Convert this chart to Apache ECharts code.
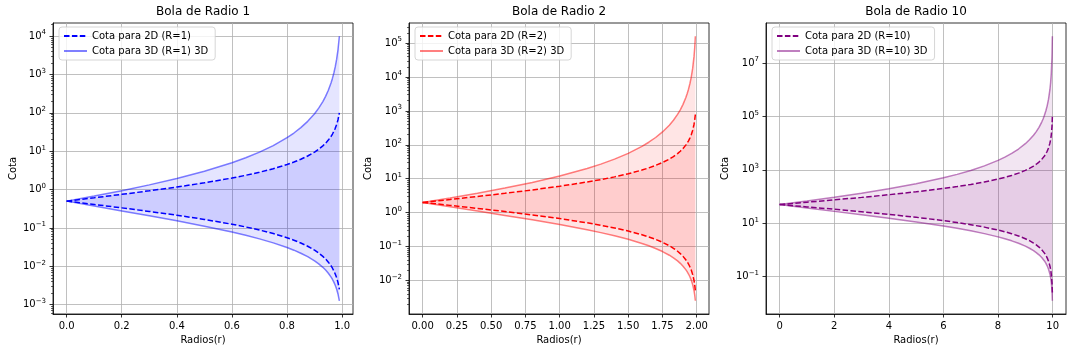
<!DOCTYPE html>
<html>
<head>
<meta charset="utf-8">
<title>Bola de Radio</title>
<script src="https://cdn.jsdelivr.net/npm/echarts@6/dist/echarts.min.js"></script>
<style>
	* { margin: 0; padding: 0 }
	html, body { width: 100%; height: 100%; background: #fff; }
	#main { width: 1072px; height: 352px; }
</style>
</head>
<body>
<div id="main"></div>
<script type="text/javascript">
// --- datos ---
// R = 1
var r1 = [0, 0.1, 0.2, 0.3, 0.4, 0.5, 0.6, 0.65, 0.7, 0.75, 0.8, 0.825, 0.85, 0.875, 0.9, 0.915, 0.93, 0.94, 0.95, 0.96, 0.965, 0.97, 0.975, 0.98, 0.985, 0.99];
var sup2d_1 = [0.5, 0.6111, 0.75, 0.9286, 1.1667, 1.5, 2, 2.3571, 2.8333, 3.5, 4.5, 5.2143, 6.1667, 7.5, 9.5, 11.265, 13.786, 16.167, 19.5, 24.5, 28.071, 32.833, 39.5, 49.5, 66.167, 99.5];
var inf2d_1 = [0.5, 0.4091, 0.3333, 0.2692, 0.2143, 0.1667, 0.125, 0.1061, 0.0882, 0.0714, 0.0556, 0.0479, 0.0405, 0.0333, 0.0263, 0.0222, 0.0181, 0.0155, 0.0128, 0.0102, 0.0089, 0.0076, 0.0063, 0.00505, 0.00378, 0.00251];
var sup3d_1 = [0.5, 0.679, 0.9375, 1.3265, 1.9444, 3, 5, 6.7347, 9.444, 14, 22.5, 29.796, 41.11, 60, 95, 132.53, 196.94, 269.44, 390, 612.5, 802.04, 1094.4, 1580, 2475, 4411.1, 9950];
var inf3d_1 = [0.5, 0.3719, 0.2778, 0.2071, 0.1531, 0.1111, 0.0781, 0.0643, 0.0519, 0.0408, 0.0309, 0.0263, 0.0219, 0.0178, 0.01385, 0.01159, 0.0094, 0.00797, 0.00657, 0.00521, 0.00453, 0.00387, 0.0032, 0.00255, 0.0019, 0.00126];
// R = 2
var r2 = [0, 0.2, 0.4, 0.6, 0.8, 1.0, 1.2, 1.3, 1.4, 1.5, 1.6, 1.65, 1.7, 1.75, 1.8, 1.83, 1.86, 1.88, 1.9, 1.92, 1.93, 1.94, 1.95, 1.96, 1.97, 1.98, 1.985, 1.99];
var sup2d_2 = [2, 2.4444, 3, 3.7143, 4.6667, 6, 8, 9.4286, 11.333, 14, 18, 20.857, 24.667, 30, 38, 45.059, 55.143, 64.667, 78, 98, 112.29, 131.33, 158, 198, 264.67, 398, 531.33, 798];
var inf2d_2 = [2, 1.6364, 1.3333, 1.0769, 0.8571, 0.6667, 0.5, 0.4242, 0.3529, 0.2857, 0.2222, 0.1918, 0.1622, 0.1333, 0.1053, 0.0888, 0.0725, 0.0619, 0.0513, 0.0408, 0.0356, 0.0305, 0.0253, 0.0202, 0.0151, 0.01005, 0.00753, 0.00501];
var sup3d_2 = [2, 2.716, 3.75, 5.3061, 7.7778, 12, 20, 26.939, 37.778, 56, 90, 119.18, 164.44, 240, 380, 530.1, 787.76, 1077.8, 1560, 2450, 3208.2, 4377.8, 6320, 9900, 17644, 39800, 70844, 159600];
var inf3d_2 = [2, 1.4876, 1.1111, 0.8284, 0.6122, 0.4444, 0.3125, 0.2571, 0.2076, 0.1633, 0.1235, 0.1051, 0.0877, 0.0711, 0.0554, 0.0464, 0.0376, 0.0319, 0.0263, 0.0208, 0.0181, 0.01546, 0.01282, 0.0102, 0.00761, 0.00505, 0.00378, 0.00251];
// R = 10
var r10 = [0, 1, 2, 3, 4, 5, 6, 6.5, 7, 7.5, 8, 8.25, 8.5, 8.75, 9, 9.15, 9.3, 9.4, 9.5, 9.6, 9.65, 9.7, 9.75, 9.8, 9.85, 9.9, 9.925, 9.95, 9.975, 9.98, 9.99];
var sup2d_10 = [50, 61.111, 75, 92.857, 116.67, 150, 200, 235.71, 283.33, 350, 450, 521.43, 616.67, 750, 950, 1126.5, 1378.6, 1616.7, 1950, 2450, 2807.1, 3283.3, 3950, 4950, 6616.7, 9950, 13283, 19950, 39950, 49950, 99950];
var inf2d_10 = [50, 40.909, 33.333, 26.923, 21.429, 16.667, 12.5, 10.606, 8.8235, 7.1429, 5.5556, 4.7945, 4.0541, 3.3333, 2.6316, 2.2193, 1.8135, 1.5464, 1.2821, 1.0204, 0.8906, 0.7614, 0.6329, 0.5051, 0.3778, 0.2513, 0.1882, 0.1253, 0.0626, 0.05005, 0.02501];
var sup3d_10 = [50, 67.901, 93.75, 132.65, 194.44, 300, 500, 673.47, 944.44, 1400, 2250, 2979.6, 4111.1, 6000, 9500, 13253, 19694, 26944, 39000, 61250, 80204, 109444, 158000, 247500, 441111, 995000, 1771111, 3990000, 15980000, 24975000, 99950000];
var inf3d_10 = [50, 37.19, 27.778, 20.71, 15.306, 11.111, 7.8125, 6.4279, 5.1903, 4.0816, 3.0864, 2.6271, 2.1914, 1.7778, 1.385, 1.1589, 0.9396, 0.7971, 0.6575, 0.5206, 0.4532, 0.3865, 0.3205, 0.2551, 0.1903, 0.1263, 0.0945, 0.0628, 0.0313, 0.02505, 0.01251];

// ticks
var xTicks1 = [0, 0.2, 0.4, 0.6, 0.8, 1.0];
var xTicks2 = [0, 0.25, 0.5, 0.75, 1.0, 1.25, 1.5, 1.75, 2.0];
var xTicks10 = [0, 2, 4, 6, 8, 10];
var yTicks1 = [0.001, 0.01, 0.1, 1, 10, 100, 1000, 10000];
var yTicks2 = [0.01, 0.1, 1, 10, 100, 1000, 10000, 100000];
var yTicks10 = [0.1, 10, 1000, 100000, 10000000];

var FONT = 'DejaVu Sans';

var panels = [
	{ R: 1, r: r1, s2: sup2d_1, i2: inf2d_1, s3: sup3d_1, i3: inf3d_1, color: '#0000ff', rgb: '0,0,255',
	  left: 53, xmin: -0.0495, xmax: 1.0395, ymin: 0.0005706, ymax: 22006, xt: xTicks1, yt: yTicks1, dec: 1, minor: true, nameGap: 35 },
	{ R: 2, r: r2, s2: sup2d_2, i2: inf2d_2, s3: sup3d_2, i3: inf3d_2, color: '#ff0000', rgb: '255,0,0',
	  left: 409, xmin: -0.0995, xmax: 2.0895, ymin: 0.001023, ymax: 391900, xt: xTicks2, yt: yTicks2, dec: 2, minor: true, nameGap: 36 },
	{ R: 10, r: r10, s2: sup2d_10, i2: inf2d_10, s3: sup3d_10, i3: inf3d_10, color: '#800080', rgb: '128,0,128',
	  left: 766, xmin: -0.4995, xmax: 10.4895, ymin: 0.004002, ymax: 312550000, xt: xTicks10, yt: yTicks10, dec: 0, minor: false, nameGap: 36 }
];

function zip(xs, ys) {
	var out = [];
	for (var i = 0; i < xs.length; i++) out.push([xs[i], ys[i]]);
	return out;
}

function powLabel(v) {
	var n = Math.round(Math.log10(v));
	return '{b|10}{s|' + (n < 0 ? '\u2212' + (-n) : n) + '}';
}

function minorTicks(lo, hi) {
	var out = [];
	for (var n = Math.floor(Math.log10(lo)); n <= Math.ceil(Math.log10(hi)); n++) {
		for (var k = 2; k <= 9; k++) {
			var v = k * Math.pow(10, n);
			if (v >= lo && v <= hi) out.push(v);
		}
	}
	return out;
}

// relleno entre dos curvas (fill_between)
function band(xs, hi, lo, fill, gi, yi) {
	return {
		type: 'custom',
		xAxisIndex: gi,
		yAxisIndex: yi,
		silent: true,
		z: 1,
		data: [[xs[0], hi[0]]],
		renderItem: function (params, api) {
			var pts = [];
			for (var i = 0; i < xs.length; i++) pts.push(api.coord([xs[i], hi[i]]));
			for (var j = xs.length - 1; j >= 0; j--) pts.push(api.coord([xs[j], lo[j]]));
			return { type: 'polygon', shape: { points: pts }, style: { fill: fill, stroke: null } };
		}
	};
}

function curve(name, xs, ys, gi, yi, color, dashed) {
	return {
		name: name, type: 'line', xAxisIndex: gi, yAxisIndex: yi, z: dashed ? 3 : 2,
		symbol: 'none', showSymbol: false,
		lineStyle: { color: color, width: 1.5, type: dashed ? [5.5, 2.4] : 'solid' },
		itemStyle: { color: color },
		data: zip(xs, ys)
	};
}

var option = {
	animation: false,
	backgroundColor: '#fff',
	title: [], grid: [], xAxis: [], yAxis: [], legend: [], series: []
};

var yIndex = 0;
panels.forEach(function (p, gi) {
	var name2 = 'Cota para 2D (R=' + p.R + ')';
	var name3 = 'Cota para 3D (R=' + p.R + ') 3D';
	var c3 = 'rgba(' + p.rgb + ',0.5)';

	option.title.push({
		text: 'Bola de Radio ' + p.R,
		left: p.left + 150, top: 6, textAlign: 'center', padding: 0,
		textStyle: { fontFamily: FONT, fontSize: 12, fontWeight: 'normal', color: '#000' }
	});
	option.grid.push({
		left: p.left, top: 23, width: 300, height: 291,
		show: true, borderColor: '#000', borderWidth: 0.8, backgroundColor: 'transparent'
	});
	option.xAxis.push({
		type: 'value', gridIndex: gi, min: p.xmin, max: p.xmax,
		name: 'Radios(r)', nameLocation: 'middle', nameGap: 20,
		nameTextStyle: { fontFamily: FONT, fontSize: 10, color: '#000' },
		axisLine: { show: true, onZero: false, lineStyle: { color: '#000', width: 0.8 } },
		axisTick: { show: true, length: 3.5, customValues: p.xt, lineStyle: { color: '#000', width: 0.8 } },
		axisLabel: {
			customValues: p.xt, margin: 7, fontFamily: FONT, fontSize: 10, color: '#000',
			formatter: function (v) { return v.toFixed(p.dec); }
		},
		splitLine: { show: true, lineStyle: { color: '#b0b0b0', width: 0.8 } }
	});
	var mainY = yIndex;
	option.yAxis.push({
		type: 'log', gridIndex: gi, position: 'left', min: p.ymin, max: p.ymax,
		name: 'Cota', nameLocation: 'middle', nameGap: p.nameGap,
		nameTextStyle: { fontFamily: FONT, fontSize: 10, color: '#000' },
		axisLine: { show: true, onZero: false, lineStyle: { color: '#000', width: 0.8 } },
		axisTick: { show: true, length: 3.5, customValues: p.yt, lineStyle: { color: '#000', width: 0.8 } },
		axisLabel: {
			customValues: p.yt, margin: 7, color: '#000',
			formatter: powLabel,
			rich: {
				b: { fontFamily: FONT, fontSize: 10, color: '#000', lineHeight: 14 },
				s: { fontFamily: FONT, fontSize: 7, color: '#000', lineHeight: 8, verticalAlign: 'top' }
			}
		},
		splitLine: { show: true, lineStyle: { color: '#b0b0b0', width: 0.8 } }
	});
	yIndex++;
	if (p.minor) {
		// ticks menores del eje logaritmico
		option.yAxis.push({
			type: 'log', gridIndex: gi, position: 'left', offset: 0, min: p.ymin, max: p.ymax,
			axisLine: { show: false, onZero: false },
			axisTick: { show: true, length: 2, customValues: minorTicks(p.ymin, p.ymax), lineStyle: { color: '#000', width: 0.6 } },
			axisLabel: { show: false },
			splitLine: { show: false }
		});
		yIndex++;
	}

	option.legend.push({
		data: [name2, name3],
		orient: 'vertical',
		left: p.left + 6, top: 27,
		itemWidth: 23, itemHeight: 10, itemGap: 5,
		padding: [4, 7, 4, 4],
		backgroundColor: 'rgba(255,255,255,0.8)',
		borderColor: '#cccccc', borderWidth: 0.8, borderRadius: 3,
		itemStyle: { color: 'transparent', borderColor: 'transparent', borderWidth: 0 },
		textStyle: { fontFamily: FONT, fontSize: 10, color: '#000' }
	});

	option.series.push(band(p.r, p.s3, p.i3, 'rgba(' + p.rgb + ',0.1)', gi, mainY));
	option.series.push(band(p.r, p.s2, p.i2, 'rgba(' + p.rgb + ',0.1)', gi, mainY));
	option.series.push(curve(name2, p.r, p.s2, gi, mainY, p.color, true));
	option.series.push(curve(name2, p.r, p.i2, gi, mainY, p.color, true));
	option.series.push(curve(name3, p.r, p.s3, gi, mainY, c3, false));
	option.series.push(curve(name3, p.r, p.i3, gi, mainY, c3, false));
});

var chart = echarts.init(document.getElementById('main'));
chart.setOption(option);
</script>
</body>
</html>
